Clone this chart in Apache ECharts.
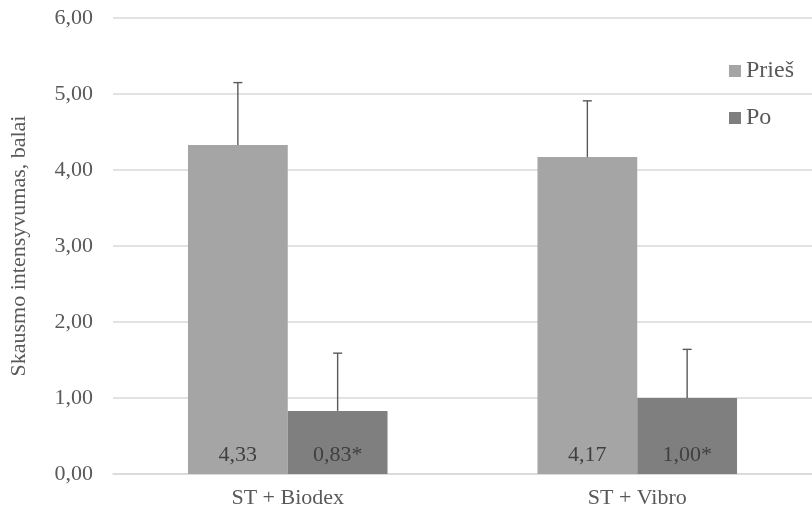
<!DOCTYPE html>
<html><head><meta charset="utf-8">
<script src="https://cdn.jsdelivr.net/npm/echarts@6/dist/echarts.min.js"></script>
<style>html,body{margin:0;padding:0;background:#fff}#c{width:812px;height:511px}</style>
</head><body><div id="c"></div>
<script>
const categories = ['ST + Biodex', 'ST + Vibro'];
const seriesNames = ['Prieš', 'Po'];
const pries = [4.33, 4.17];
const po = [0.83, 1.00];
const priesErr = [0.82, 0.74];
const poErr = [0.76, 0.64];
const yTicks = [0, 1, 2, 3, 4, 5, 6];

const fmt = v => v.toFixed(2).replace('.', ',');
const font = '"Liberation Serif", "Times New Roman", serif';

function errSeries(idx, vals, errs) {
  return {
    type: 'custom',
    name: seriesNames[idx] + '_err',
    z: 10,
    silent: true,
    data: vals.map((v, i) => [i, v, v + errs[i]]),
    renderItem: function (params, api) {
      const ci = api.value(0);
      const base = api.coord([ci, api.value(1)]);
      const top = api.coord([ci, api.value(2)]);
      const bw = api.size([1, 0])[0];
      const barW = bw * 0.2855;
      const off = (idx === 0 ? -0.5 : 0.5) * barW;
      const x = base[0] + off;
      const half = 4.5;
      const st = { stroke: '#595959', lineWidth: 1.4 };
      return {
        type: 'group',
        children: [
          { type: 'line', shape: { x1: x, y1: base[1], x2: x, y2: top[1] }, style: st },
          { type: 'line', shape: { x1: x - half, y1: top[1], x2: x + half, y2: top[1] }, style: st }
        ]
      };
    }
  };
}

const chart = echarts.init(document.getElementById('c'));
chart.setOption({
  animation: false,
  textStyle: { fontFamily: font },
  grid: { left: 112, right: -10, top: 18, bottom: 37 },
  legend: {
    data: [{ name: 'Prieš' }, { name: 'Po' }],
    orient: 'vertical',
    left: 729,
    top: 59,
    padding: 0,
    itemWidth: 12,
    itemHeight: 12,
    itemGap: 23,
    icon: 'rect',
    textStyle: { fontFamily: font, fontSize: 24, color: '#595959', padding: [0, 0, 0, 0] }
  },
  xAxis: {
    type: 'category',
    data: categories,
    axisLine: { lineStyle: { color: '#d9d9d9', width: 1.5 } },
    axisTick: { show: false },
    axisLabel: { fontFamily: font, fontSize: 22, color: '#595959', margin: 13 }
  },
  yAxis: {
    type: 'value',
    min: yTicks[0],
    max: yTicks[yTicks.length - 1],
    interval: 1,
    name: 'Skausmo intensyvumas, balai',
    nameLocation: 'middle',
    nameGap: 83,
    nameTextStyle: { fontFamily: font, fontSize: 22, color: '#595959' },
    axisLine: { show: false },
    axisTick: { show: false },
    axisLabel: { fontFamily: font, fontSize: 22, color: '#595959', margin: 20, formatter: v => fmt(v) },
    splitLine: { lineStyle: { color: '#d9d9d9', width: 1.5 } }
  },
  series: [
    {
      type: 'bar', name: 'Prieš', data: pries,
      barWidth: '28.55%', barGap: '0%',
      itemStyle: { color: '#a5a5a5' },
      label: { show: true, position: 'insideBottom', distance: 8, fontFamily: font, fontSize: 22, color: '#404040', formatter: p => fmt(p.value) }
    },
    {
      type: 'bar', name: 'Po', data: po,
      barWidth: '28.55%', barGap: '0%',
      itemStyle: { color: '#7f7f7f' },
      label: { show: true, position: 'insideBottom', distance: 8, fontFamily: font, fontSize: 22, color: '#404040', formatter: p => fmt(p.value) + '*' }
    },
    errSeries(0, pries, priesErr),
    errSeries(1, po, poErr)
  ]
});
</script></body></html>
